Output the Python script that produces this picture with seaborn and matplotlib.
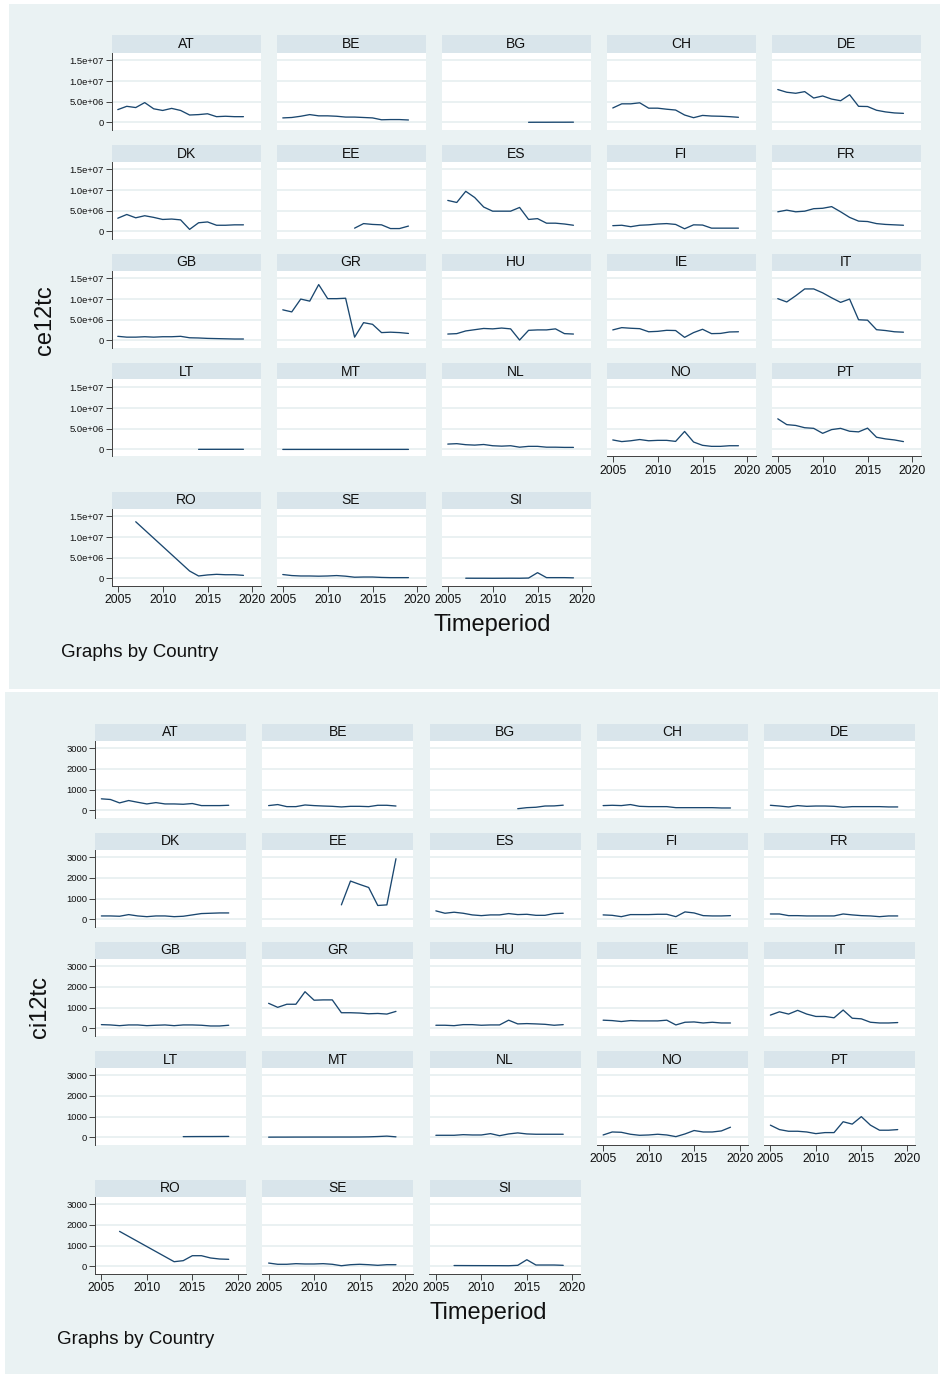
import matplotlib
matplotlib.use("Agg")
import matplotlib.pyplot as plt
from matplotlib.patches import Rectangle
import seaborn as sns
import pandas as pd

# ---------------- data ----------------
years = list(range(2005, 2020))
countries = ["AT", "BE", "BG", "CH", "DE", "DK", "EE", "ES", "FI", "FR",
             "GB", "GR", "HU", "IE", "IT", "LT", "MT", "NL", "NO", "PT",
             "RO", "SE", "SI"]

# ce12tc
ce_AT = [3.1e6, 3.9e6, 3.6e6, 4.8e6, 3.3e6, 2.9e6, 3.4e6, 2.9e6, 1.8e6, 1.9e6, 2.1e6, 1.4e6, 1.5e6, 1.4e6, 1.4e6]
ce_BE = [1.1e6, 1.2e6, 1.5e6, 1.9e6, 1.6e6, 1.6e6, 1.5e6, 1.3e6, 1.3e6, 1.2e6, 1.1e6, 0.65e6, 0.7e6, 0.7e6, 0.6e6]
ce_BG = [None, None, None, None, None, None, None, None, None, 4e4, 5e4, 5e4, 6e4, 6e4, 7e4]
ce_CH = [3.5e6, 4.5e6, 4.5e6, 4.75e6, 3.45e6, 3.45e6, 3.2e6, 3.0e6, 1.8e6, 1.15e6, 1.7e6, 1.55e6, 1.5e6, 1.4e6, 1.25e6]
ce_DE = [7.95e6, 7.3e6, 7.05e6, 7.45e6, 5.9e6, 6.4e6, 5.65e6, 5.25e6, 6.7e6, 3.9e6, 3.85e6, 2.95e6, 2.55e6, 2.3e6, 2.2e6]
ce_DK = [3.2e6, 4.1e6, 3.3e6, 3.8e6, 3.4e6, 2.9e6, 3.0e6, 2.8e6, 0.5e6, 2.1e6, 2.3e6, 1.5e6, 1.5e6, 1.6e6, 1.6e6]
ce_EE = [None, None, None, None, None, None, None, None, 0.8e6, 1.9e6, 1.7e6, 1.6e6, 0.7e6, 0.7e6, 1.3e6]
ce_ES = [7.5e6, 7.0e6, 9.7e6, 8.2e6, 5.9e6, 4.9e6, 4.9e6, 4.9e6, 5.8e6, 2.9e6, 3.1e6, 2.0e6, 2.0e6, 1.8e6, 1.5e6]
ce_FI = [1.4e6, 1.5e6, 1.15e6, 1.5e6, 1.6e6, 1.8e6, 1.9e6, 1.7e6, 0.65e6, 1.6e6, 1.55e6, 0.8e6, 0.8e6, 0.8e6, 0.8e6]
ce_FR = [4.75e6, 5.15e6, 4.75e6, 4.9e6, 5.5e6, 5.6e6, 6.0e6, 4.75e6, 3.4e6, 2.5e6, 2.4e6, 1.9e6, 1.7e6, 1.6e6, 1.5e6]
ce_GB = [1.0e6, 0.8e6, 0.8e6, 0.9e6, 0.8e6, 0.9e6, 0.9e6, 1.0e6, 0.65e6, 0.6e6, 0.5e6, 0.45e6, 0.4e6, 0.35e6, 0.35e6]
ce_GR = [7.4e6, 6.9e6, 10.0e6, 9.5e6, 13.5e6, 10.1e6, 10.1e6, 10.2e6, 0.8e6, 4.3e6, 3.9e6, 1.9e6, 2.0e6, 1.9e6, 1.7e6]
ce_HU = [1.55e6, 1.65e6, 2.3e6, 2.6e6, 2.9e6, 2.8e6, 3.0e6, 2.8e6, 0.1e6, 2.45e6, 2.55e6, 2.55e6, 2.8e6, 1.65e6, 1.55e6]
ce_IE = [2.55e6, 3.1e6, 2.95e6, 2.85e6, 2.1e6, 2.2e6, 2.45e6, 2.4e6, 0.75e6, 1.9e6, 2.7e6, 1.65e6, 1.7e6, 2.05e6, 2.1e6]
ce_IT = [10.1e6, 9.3e6, 10.8e6, 12.45e6, 12.45e6, 11.5e6, 10.3e6, 9.2e6, 10.0e6, 5.0e6, 4.9e6, 2.6e6, 2.4e6, 2.1e6, 2.0e6]
ce_LT = [None, None, None, None, None, None, None, None, None, 3e4, 3e4, 3.5e4, 3.5e4, 4e4, 4e4]
ce_MT = [1e4, 1e4, 1.2e4, 1.2e4, 1.3e4, 1.3e4, 1.4e4, 1.4e4, 1.5e4, 1.5e4, 1.6e4, 1.6e4, 1.7e4, 1.8e4, 1.8e4]
ce_NL = [1.3e6, 1.4e6, 1.15e6, 1.05e6, 1.2e6, 0.9e6, 0.8e6, 0.9e6, 0.55e6, 0.75e6, 0.75e6, 0.55e6, 0.55e6, 0.5e6, 0.5e6]
ce_NO = [2.3e6, 1.9e6, 2.1e6, 2.4e6, 2.1e6, 2.2e6, 2.2e6, 1.95e6, 4.35e6, 1.8e6, 1.0e6, 0.75e6, 0.75e6, 0.9e6, 0.9e6]
ce_PT = [7.4e6, 6.0e6, 5.8e6, 5.25e6, 5.1e6, 3.9e6, 4.8e6, 5.1e6, 4.4e6, 4.25e6, 5.15e6, 2.95e6, 2.55e6, 2.3e6, 1.9e6]
ce_RO = [None, None, 13.7e6, None, None, None, None, None, 1.8e6, 0.6e6, 0.85e6, 1.0e6, 0.9e6, 0.9e6, 0.75e6]
ce_SE = [0.95e6, 0.7e6, 0.6e6, 0.6e6, 0.55e6, 0.6e6, 0.7e6, 0.55e6, 0.3e6, 0.35e6, 0.35e6, 0.25e6, 0.2e6, 0.2e6, 0.2e6]
ce_SI = [None, None, 6e4, 5e4, 5e4, 4e4, 5e4, 6e4, 5e4, 1e5, 1.4e6, 2e5, 2e5, 2e5, 1.5e5]

# ci12tc
ci_AT = [557, 525, 360, 475, 390, 310, 375, 310, 310, 295, 330, 230, 230, 230, 245]
ci_BE = [230, 280, 180, 180, 260, 230, 210, 195, 165, 195, 195, 180, 245, 245, 210]
ci_BG = [None, None, None, None, None, None, None, None, None, 80, 130, 150, 210, 215, 250]
ci_CH = [230, 245, 230, 280, 195, 180, 180, 180, 130, 130, 130, 130, 130, 115, 115]
ci_DE = [245, 210, 165, 230, 195, 210, 210, 195, 150, 180, 180, 180, 180, 165, 165]
ci_DK = [165, 165, 150, 230, 165, 130, 165, 165, 130, 150, 215, 280, 295, 310, 310]
ci_EE = [None, None, None, None, None, None, None, None, 700, 1850, 1690, 1540, 670, 700, 2930]
ci_ES = [410, 295, 345, 295, 215, 180, 215, 215, 280, 230, 245, 195, 195, 280, 295]
ci_FI = [215, 195, 130, 230, 230, 230, 245, 245, 130, 360, 310, 180, 165, 165, 180]
ci_FR = [260, 260, 180, 180, 165, 165, 165, 165, 260, 215, 180, 165, 130, 165, 165]
ci_GB = [180, 165, 130, 165, 165, 130, 150, 165, 130, 165, 165, 150, 115, 115, 150]
ci_GR = [1210, 1015, 1165, 1165, 1770, 1360, 1375, 1375, 755, 755, 740, 705, 720, 690, 820]
ci_HU = [150, 150, 130, 180, 180, 150, 165, 165, 395, 215, 230, 215, 195, 150, 180]
ci_IE = [395, 375, 330, 375, 360, 360, 360, 395, 165, 295, 310, 260, 295, 260, 260]
ci_IT = [640, 800, 690, 870, 690, 575, 575, 510, 885, 490, 460, 295, 260, 260, 280]
ci_LT = [None, None, None, None, None, None, None, None, None, 35, 38, 40, 40, 42, 45]
ci_MT = [10, 12, 12, 14, 14, 15, 15, 15, 16, 16, 18, 25, 40, 60, 25]
ci_NL = [100, 100, 100, 130, 115, 115, 180, 80, 165, 215, 165, 150, 150, 150, 150]
ci_NO = [115, 260, 245, 150, 100, 115, 150, 115, 35, 165, 330, 260, 260, 310, 490]
ci_PT = [590, 375, 295, 295, 260, 180, 230, 230, 755, 640, 1000, 590, 345, 345, 375]
ci_RO = [None, None, 1690, None, None, None, None, None, 225, 275, 515, 515, 405, 355, 340]
ci_SE = [160, 100, 100, 130, 115, 115, 130, 100, 30, 80, 100, 80, 50, 80, 80]
ci_SI = [None, None, 40, 38, 36, 35, 34, 33, 30, 50, 320, 65, 65, 65, 50]

ce_ticks = [0, 5e6, 1e7, 1.5e7]
ce_ticklabels = ["0", "5.0e+06", "1.0e+07", "1.5e+07"]
ci_ticks = [0, 1000, 2000, 3000]
ci_ticklabels = ["0", "1000", "2000", "3000"]
x_ticks = [2005, 2010, 2015, 2020]

ce_series = [ce_AT, ce_BE, ce_BG, ce_CH, ce_DE, ce_DK, ce_EE, ce_ES, ce_FI, ce_FR, ce_GB, ce_GR,
             ce_HU, ce_IE, ce_IT, ce_LT, ce_MT, ce_NL, ce_NO, ce_PT, ce_RO, ce_SE, ce_SI]
ci_series = [ci_AT, ci_BE, ci_BG, ci_CH, ci_DE, ci_DK, ci_EE, ci_ES, ci_FI, ci_FR, ci_GB, ci_GR,
             ci_HU, ci_IE, ci_IT, ci_LT, ci_MT, ci_NL, ci_NO, ci_PT, ci_RO, ci_SE, ci_SI]

rows = []
for c, ce, ci in zip(countries, ce_series, ci_series):
    for y, a, b in zip(years, ce, ci):
        rows.append({"Country": c, "Timeperiod": y, "ce12tc": a, "ci12tc": b})
df = pd.DataFrame(rows)

# ---------------- style ----------------
sns.set_theme(style="white")
plt.rcParams['font.family'] = ['Liberation Sans', 'DejaVu Sans']

W, H = 940, 1374
BGCOL = "#EAF2F3"
STRIP = "#D9E5EB"
LINE = "#1A476F"
AXCOL = "#404040"

fig = plt.figure(figsize=(W / 100, H / 100), dpi=100, facecolor="white")


def fx(x):
    return x / W


def fy(y):
    return 1 - y / H


def frect(x0, y0, x1, y1, color, z):
    fig.patches.append(Rectangle((fx(x0), fy(y1)), fx(x1) - fx(x0), fy(y0) - fy(y1),
                                 transform=fig.transFigure, facecolor=color,
                                 edgecolor="none", zorder=z))


frect(9, 4, 940, 689, BGCOL, -10)
frect(5, 692, 938, 1374, BGCOL, -10)

panels = [
    dict(var="ce12tc", col_x=[111.5, 276.5, 441.5, 606.5, 771.5], width=149,
         row_y=[35.5, 144.5, 253.5, 362.5, 491.5], ylim=(-1.7e6, 1.69e7),
         ticks=ce_ticks, ticklabels=ce_ticklabels,
         xlab=(492, 625), ylab=(45, 320), note=(61, 651)),
    dict(var="ci12tc", col_x=[95, 262.25, 429.5, 596.75, 764], width=151,
         row_y=[723.5, 832.5, 941.5, 1050.5, 1179.5], ylim=(-345, 3375),
         ticks=ci_ticks, ticklabels=ci_ticklabels,
         xlab=(488, 1313), ylab=(40, 1007), note=(57, 1339)),
]

HEAD_H = 17
PLOT_H = 77

for p in panels:
    var = p["var"]
    for i, c in enumerate(countries):
        r, k = divmod(i, 5)
        x0 = p["col_x"][k]
        w = p["width"]
        ytop = p["row_y"][r]
        # strip
        frect(x0, ytop, x0 + w, ytop + HEAD_H, STRIP, -5)
        fig.text(fx(x0 + w / 2), fy(ytop + HEAD_H / 2 + 0.5), c, ha="center", va="center",
                 fontsize=10, color="#111111")
        ax = fig.add_axes([fx(x0), fy(ytop + HEAD_H + PLOT_H), w / W, PLOT_H / H])
        ax.set_facecolor("white")
        sub = df[df["Country"] == c].dropna(subset=[var])
        sns.lineplot(data=sub, x="Timeperiod", y=var, ax=ax, color=LINE,
                     linewidth=0.95, estimator=None, sort=True)
        ax.set_xlim(2004.3, 2020.9)
        ax.set_ylim(*p["ylim"])
        ax.set_yticks(p["ticks"])
        ax.set_xticks(x_ticks)
        ax.grid(axis="y", color="#E4EDEF", linewidth=1.1)
        ax.grid(axis="x", visible=False)
        ax.set_axisbelow(True)
        ax.set_xlabel("")
        ax.set_ylabel("")
        for s in ax.spines.values():
            s.set_visible(False)
        show_y = (k == 0)
        show_x = (r == 4) or (c in ("NO", "PT"))
        if show_y:
            ax.spines["left"].set_visible(True)
            ax.spines["left"].set_color(AXCOL)
            ax.spines["left"].set_linewidth(0.7)
            ax.set_yticklabels(p["ticklabels"])
            ax.tick_params(axis="y", length=4, width=0.7, color=AXCOL, labelsize=6.8,
                           pad=1.5, labelcolor="#111111", left=True)
        else:
            ax.tick_params(axis="y", length=0, labelleft=False, left=False)
        if show_x:
            ax.spines["bottom"].set_visible(True)
            ax.spines["bottom"].set_color(AXCOL)
            ax.spines["bottom"].set_linewidth(0.7)
            ax.tick_params(axis="x", length=4, width=0.7, color=AXCOL, labelsize=8.8,
                           pad=2, labelcolor="#111111", bottom=True)
        else:
            ax.tick_params(axis="x", length=0, labelbottom=False, bottom=False)

    fig.text(fx(p["xlab"][0]), fy(p["xlab"][1]), "Timeperiod", ha="center", va="center",
             fontsize=17, color="#111111")
    fig.text(fx(p["ylab"][0]), fy(p["ylab"][1]), var, ha="center", va="center",
             rotation=90, fontsize=17, color="#111111")
    fig.text(fx(p["note"][0]), fy(p["note"][1] + 1), "Graphs by Country", ha="left", va="center",
             fontsize=13.5, color="#111111")

fig.savefig("out.png", dpi=100, facecolor="white")
